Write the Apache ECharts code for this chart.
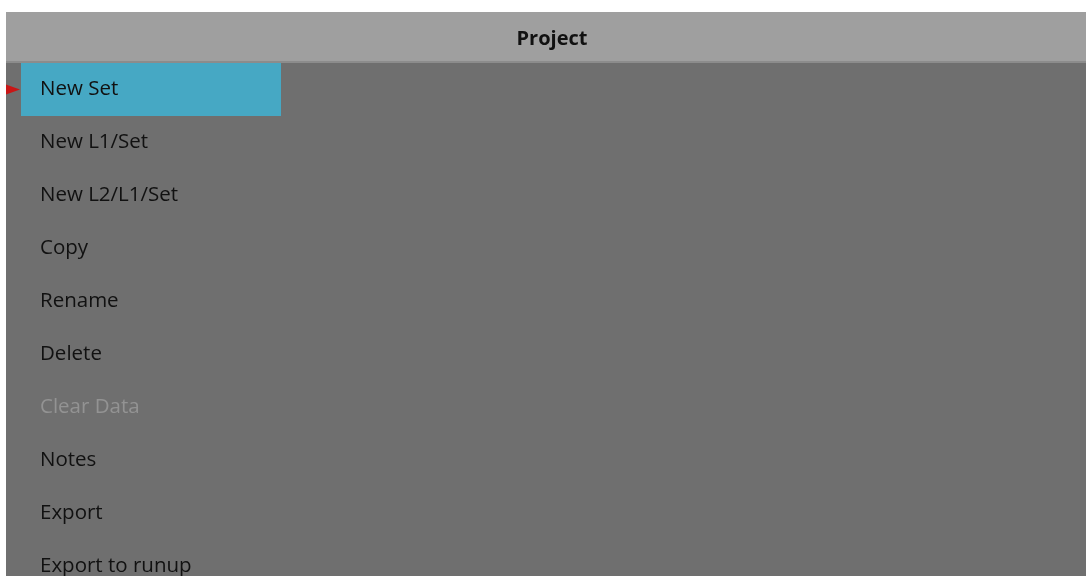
<!DOCTYPE html>
<html>
<head>
<meta charset="utf-8">
<script src="https://cdn.jsdelivr.net/npm/echarts@6/dist/echarts.min.js"></script>
<style>
html,body{margin:0;padding:0;background:#ffffff;overflow:hidden;}
#chart{width:1086px;height:600px;}
</style>
</head>
<body>
<div id="chart"></div>
<script>
// ---- data ----
const titleText = 'Project';
const menuItems = ['New Set','New L1/Set','New L2/L1/Set','Copy','Rename','Delete','Clear Data','Notes','Export','Export to runup'];
const disabledItems = ['Clear Data'];
const selectedItem = 'New Set';
const highlightValues = menuItems.map(m => m === selectedItem ? 1 : 0);
const markerPoints = [[0, selectedItem]];

const chart = echarts.init(document.getElementById('chart'), null, {renderer:'canvas'});
const FONT = '"Open Sans", "Noto Sans", sans-serif';

chart.setOption({
  backgroundColor: '#ffffff',
  animation: false,
  title: {
    text: titleText,
    left: 547, top: 24, textAlign: 'center',
    textStyle: {fontFamily: FONT, fontSize: 20, fontWeight: 'bold', color: '#111111'}
  },
  graphic: [
    {type:'rect', z:-10, silent:true, shape:{x:6, y:12, width:1080, height:50}, style:{fill:'#9f9f9f'}},
    {type:'rect', z:-10, silent:true, shape:{x:6, y:61, width:1080, height:2}, style:{fill:'#8c8c8c'}},
    {type:'rect', z:-10, silent:true, shape:{x:6, y:63, width:1080, height:540}, style:{fill:'#6f6f6f'}}
  ],
  grid: {left: 21, top: 63, width: 260, height: 530, containLabel: false},
  xAxis: {type:'value', min:0, max:1, show:false},
  yAxis: {
    type:'category', data: menuItems, inverse: true,
    axisLine:{show:false}, axisTick:{show:false}, splitLine:{show:false},
    axisLabel:{
      inside: true, margin: 19, align:'left',
      formatter: v => disabledItems.includes(v) ? '{dis|' + v + '}' : '{en|' + v + '}',
      rich: {
        en: {fontFamily: FONT, fontSize: 20.5, color:'#111111'},
        dis: {fontFamily: FONT, fontSize: 20.5, color:'#939393'}
      }
    },
    z: 10
  },
  series: [
    {
      type:'bar', data: highlightValues, barWidth:'100%', barGap:'0%',
      itemStyle:{color:'#46a8c4'}, silent:true, z:1
    },
    {
      type:'scatter', data: markerPoints, symbol:'triangle', symbolRotate:-90,
      symbolSize:[10,14], symbolOffset:[-8,0], clip:false,
      itemStyle:{color:'#e00000'}, silent:true, z:5
    }
  ]
});
</script>
</body>
</html>
